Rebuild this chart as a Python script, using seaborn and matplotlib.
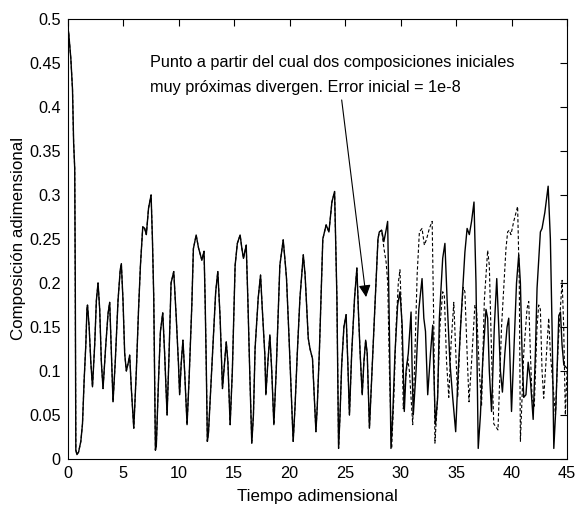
import matplotlib
matplotlib.use("Agg")
import matplotlib.pyplot as plt
import seaborn as sns
import pandas as pd

# Shared trajectory (both initial conditions coincide until ~28.3)
common_t = [0.0, 0.1, 0.2, 0.3, 0.45, 0.55, 0.65, 0.7, 0.75, 0.85, 1.0, 1.2, 1.35, 1.5, 1.65, 1.75, 1.8, 1.95,
            2.1, 2.25, 2.45, 2.6, 2.75, 2.9, 3.05, 3.2, 3.45, 3.65, 3.8, 3.95, 4.1, 4.3, 4.55, 4.75, 4.85, 5.0,
            5.15, 5.3, 5.45, 5.6, 5.75, 5.97, 6.2, 6.4, 6.57, 6.78, 6.95, 7.1, 7.3, 7.53, 7.65, 7.77, 7.92, 8.0,
            8.2, 8.37, 8.58, 8.75, 8.97, 9.15, 9.33, 9.57, 9.8, 10.0, 10.1, 10.25, 10.4, 10.55, 10.77, 10.95,
            11.2, 11.34, 11.59, 11.8, 12.1, 12.3, 12.4, 12.5, 12.6, 12.7, 12.9, 13.15, 13.35, 13.54, 13.75,
            13.96, 14.15, 14.3, 14.45, 14.65, 14.85, 15.1, 15.3, 15.55, 15.7, 15.85, 16.1, 16.25, 16.4, 16.6,
            16.75, 16.9, 17.18, 17.39, 17.55, 17.78, 17.87, 18.05, 18.23, 18.4, 18.59, 18.8, 19.13, 19.43,
            19.6, 19.73, 19.95, 20.18, 20.33, 20.5, 20.7, 20.94, 21.24, 21.4, 21.69, 21.85, 22.07, 22.2, 22.38,
            22.5, 22.7, 23.0, 23.3, 23.55, 23.82, 24.06, 24.27, 24.42, 24.55, 24.7, 24.9, 25.1, 25.25, 25.4,
            25.6, 25.86, 26.07, 26.2, 26.37, 26.55, 26.7, 26.86, 27.0, 27.2, 27.4, 27.66, 27.97, 28.09, 28.3]
common_c = [0.49, 0.485, 0.47, 0.455, 0.42, 0.36, 0.33, 0.2, 0.01, 0.005, 0.008, 0.02, 0.04, 0.09, 0.13, 0.17,
            0.175, 0.15, 0.11, 0.082, 0.13, 0.18, 0.2, 0.17, 0.11, 0.08, 0.13, 0.165, 0.178, 0.12, 0.065, 0.11,
            0.18, 0.215, 0.222, 0.18, 0.12, 0.1, 0.108, 0.118, 0.08, 0.035, 0.1, 0.17, 0.22, 0.264, 0.262,
            0.255, 0.285, 0.3, 0.25, 0.183, 0.01, 0.015, 0.09, 0.145, 0.166, 0.12, 0.05, 0.12, 0.2, 0.213,
            0.16, 0.107, 0.073, 0.11, 0.135, 0.1, 0.039, 0.09, 0.175, 0.239, 0.2545, 0.24, 0.226, 0.236, 0.18,
            0.107, 0.02, 0.03, 0.08, 0.145, 0.19, 0.213, 0.16, 0.08, 0.11, 0.133, 0.11, 0.039, 0.1, 0.22,
            0.245, 0.2545, 0.24, 0.228, 0.243, 0.18, 0.107, 0.018, 0.05, 0.126, 0.183, 0.209, 0.17, 0.118,
            0.073, 0.11, 0.141, 0.1, 0.039, 0.1, 0.22, 0.249, 0.225, 0.205, 0.14, 0.069, 0.02, 0.06, 0.12,
            0.183, 0.232, 0.21, 0.137, 0.125, 0.114, 0.08, 0.031, 0.06, 0.126, 0.25, 0.266, 0.258, 0.292,
            0.304, 0.183, 0.012, 0.05, 0.107, 0.15, 0.164, 0.11, 0.05, 0.12, 0.183, 0.217, 0.17, 0.118, 0.073,
            0.11, 0.135, 0.12, 0.035, 0.09, 0.164, 0.25, 0.258, 0.26]

# Reference trajectory (solid) after divergence
solid_t = [28.5, 28.7, 28.84, 29.0, 29.14, 29.3, 29.5, 29.74, 29.95, 30.15, 30.34, 30.5, 30.7, 30.95, 31.05,
           31.15, 31.4, 31.65, 31.94, 32.1, 32.25, 32.45, 32.7, 32.9, 33.0, 33.14, 33.35, 33.5, 33.8, 34.0,
           34.2, 34.45, 34.7, 34.97, 35.2, 35.5, 35.8, 36.0, 36.2, 36.4, 36.62, 36.8, 37.0, 37.2, 37.4, 37.7,
           37.85, 38.0, 38.2, 38.45, 38.67, 38.85, 39.0, 39.18, 39.4, 39.6, 39.75, 40.0, 40.2, 40.45, 40.65,
           40.8, 40.95, 41.1, 41.3, 41.5, 41.7, 41.95, 42.15, 42.3, 42.6, 42.75, 43.0, 43.3, 43.5, 43.66,
           43.81, 44.0, 44.26, 44.41, 44.55, 44.71, 45.0]
solid_c = [0.247, 0.26, 0.27, 0.145, 0.012, 0.05, 0.12, 0.175, 0.19, 0.152, 0.054, 0.1, 0.12, 0.167, 0.1,
           0.05, 0.1, 0.17, 0.205, 0.16, 0.145, 0.073, 0.12, 0.152, 0.1, 0.039, 0.07, 0.16, 0.228, 0.245,
           0.18, 0.11, 0.07, 0.031, 0.1, 0.17, 0.235, 0.262, 0.255, 0.27, 0.292, 0.2, 0.012, 0.05, 0.11,
           0.17, 0.16, 0.1, 0.054, 0.15, 0.205, 0.15, 0.1, 0.076, 0.12, 0.15, 0.16, 0.054, 0.12, 0.2, 0.232,
           0.2, 0.12, 0.07, 0.073, 0.11, 0.09, 0.045, 0.12, 0.194, 0.258, 0.262, 0.28, 0.31, 0.25, 0.145,
           0.012, 0.06, 0.163, 0.167, 0.13, 0.107, 0.103]

# Perturbed trajectory (dashed) after divergence
dashed_t = [28.5, 28.7, 28.85, 29.0, 29.2, 29.4, 29.6, 29.8, 29.95, 30.1, 30.25, 30.45, 30.65, 30.8, 31.1,
            31.3, 31.5, 31.7, 31.94, 32.15, 32.35, 32.6, 32.85, 33.0, 33.1, 33.3, 33.55, 33.8, 33.95, 34.15,
            34.35, 34.55, 34.8, 34.95, 35.15, 35.4, 35.65, 35.8, 36.0, 36.17, 36.4, 36.7, 36.85, 37.1, 37.3,
            37.55, 37.85, 38.0, 38.2, 38.4, 38.78, 39.1, 39.5, 39.65, 39.8, 39.95, 40.2, 40.55, 40.7, 40.8,
            41.1, 41.4, 41.55, 41.7, 41.85, 42.05, 42.3, 42.45, 42.6, 42.75, 42.9, 43.1, 43.35, 43.5, 43.96,
            44.2, 44.56, 44.7, 44.85, 45.0]
dashed_c = [0.24, 0.224, 0.2, 0.1, 0.012, 0.07, 0.15, 0.2, 0.215, 0.16, 0.057, 0.09, 0.114, 0.1, 0.039,
            0.12, 0.21, 0.258, 0.262, 0.243, 0.25, 0.262, 0.27, 0.15, 0.018, 0.06, 0.15, 0.19, 0.185, 0.11,
            0.07, 0.13, 0.178, 0.13, 0.07, 0.15, 0.195, 0.19, 0.12, 0.065, 0.11, 0.175, 0.17, 0.1, 0.06,
            0.18, 0.237, 0.22, 0.12, 0.04, 0.033, 0.15, 0.239, 0.258, 0.26, 0.255, 0.27, 0.287, 0.2, 0.02,
            0.12, 0.171, 0.179, 0.12, 0.069, 0.06, 0.15, 0.175, 0.17, 0.1, 0.069, 0.11, 0.16, 0.12, 0.05,
            0.13, 0.203, 0.15, 0.05, 0.1]

x_ticks = [0, 5, 10, 15, 20, 25, 30, 35, 40, 45]
y_ticks = [0, 0.05, 0.1, 0.15, 0.2, 0.25, 0.3, 0.35, 0.4, 0.45, 0.5]
y_tick_labels = ["0", "0.05", "0.1", "0.15", "0.2", "0.25", "0.3", "0.35", "0.4", "0.45", "0.5"]

sns.set_style("white")
plt.rcParams["font.family"] = ["Liberation Sans", "DejaVu Sans"]
plt.rcParams["text.color"] = "black"
plt.rcParams["axes.labelcolor"] = "black"
plt.rcParams["xtick.color"] = "black"
plt.rcParams["ytick.color"] = "black"

solid_df = pd.DataFrame({"t": common_t + solid_t, "c": common_c + solid_c})
dashed_df = pd.DataFrame({"t": common_t + dashed_t, "c": common_c + dashed_c})

fig = plt.figure(figsize=(5.78, 5.08), dpi=100)
ax = fig.add_axes([0.1168, 0.0965, 0.8642, 0.8661])

sns.lineplot(data=solid_df, x="t", y="c", ax=ax, color="black", lw=1.0,
             estimator=None, sort=False)
sns.lineplot(data=dashed_df, x="t", y="c", ax=ax, color="black", lw=0.8,
             linestyle=(0, (3, 2)), estimator=None, sort=False)

ax.set_xlim(0, 45)
ax.set_ylim(0, 0.5)
ax.set_xticks(x_ticks)
ax.set_xticklabels([str(v) for v in x_ticks])
ax.set_yticks(y_ticks)
ax.set_yticklabels(y_tick_labels)
ax.tick_params(direction="in", length=5, width=0.8, top=True, right=True,
               labelsize=11.7, colors="black", pad=5)
for s in ax.spines.values():
    s.set_color("black")
    s.set_linewidth(0.8)

ax.set_xlabel("Tiempo adimensional", fontsize=12.2, labelpad=6, color="black")
ax.set_ylabel("Composición adimensional", fontsize=12.2, labelpad=2, color="black")

ax.text(7.4, 0.45, "Punto a partir del cual dos composiciones iniciales", fontsize=11.7,
        va="center", ha="left", color="black")
ax.text(7.4, 0.4216, "muy próximas divergen. Error inicial = 1e-8", fontsize=11.7,
        va="center", ha="left", color="black")
ax.annotate("", xy=(26.9, 0.184), xytext=(24.7, 0.408),
            arrowprops=dict(arrowstyle="-|>", color="black", lw=0.8,
                            mutation_scale=18, shrinkA=0, shrinkB=0))

fig.savefig("out.png", dpi=100, facecolor="white")
